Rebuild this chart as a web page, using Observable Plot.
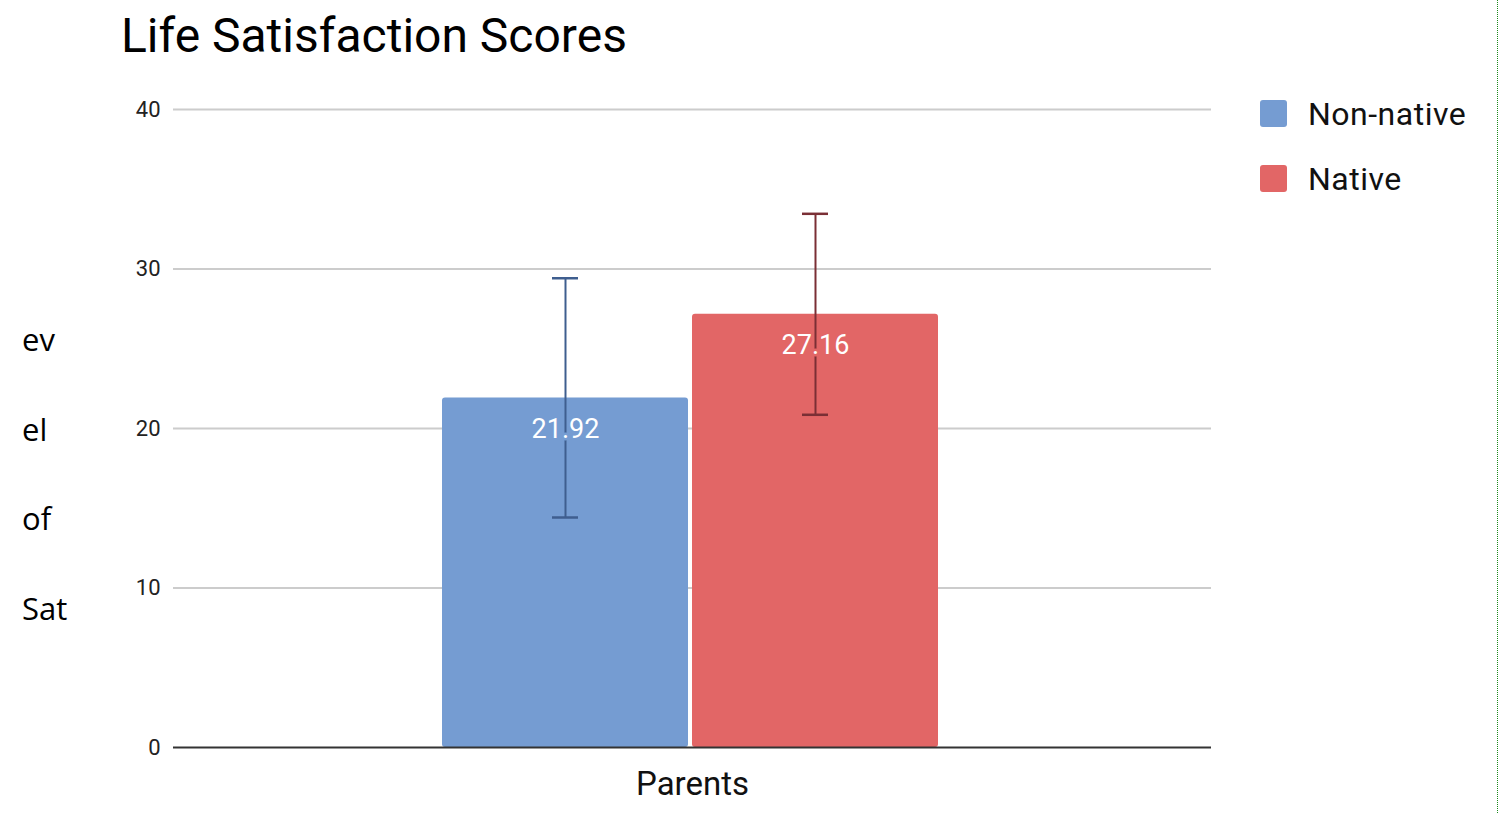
<!DOCTYPE html>
<html>
<head>
<meta charset="utf-8">
<script src="https://cdn.jsdelivr.net/npm/d3@7"></script>
<script src="https://cdn.jsdelivr.net/npm/@observablehq/plot@0.6"></script>
<style>
  html, body { margin: 0; padding: 0; background: #fff; }
  #wrap { position: relative; width: 1500px; height: 813px; overflow: hidden; font-family: Roboto, sans-serif; }
  #chart { position: absolute; left: 0; top: 0; }
  #title { position: absolute; left: 121px; top: 12px; font-size: 48px; line-height: 1; color: #000; white-space: nowrap; }
  #legend { position: absolute; left: 1260px; top: 96px; }
  .lg { display: flex; align-items: center; height: 35px; margin-bottom: 30px; font-size: 32px; letter-spacing: 0.5px; color: #111; white-space: nowrap; }
  .sw { width: 27px; height: 27px; border-radius: 3px; margin-right: 21px; flex: none; }
  .frag { position: absolute; left: 22px; font-family: "Open Sans", sans-serif; font-size: 31px; line-height: 1; color: #000; }
  #dots { position: absolute; left: 1497px; top: 0; height: 813px; border-left: 1px dotted #1a8a1a; }
</style>
</head>
<body>
<div id="wrap">
  <div id="chart"></div>
  <div id="title"></div>
  <div id="legend"></div>
  <div id="dots"></div>
</div>
<script>
// ---- data ----
const title = "Life Satisfaction Scores";
const categories = ["Parents"];
const series = ["Non-native", "Native"];
const means = [21.92, 27.16];
const errors = [7.5, 6.3];
const yTicks = [0, 10, 20, 30, 40];
const yTitleFragments = ["ev", "el", "of", "Sat"];
const barColors = ["#759cd2", "#e26666"];
const errColors = ["#3f5e8f", "#7a2f35"];

// ---- table ----
const rows = series.map((s, i) => ({
  category: categories[0],
  series: s,
  value: means[i],
  lo: means[i] - errors[i],
  hi: means[i] + errors[i],
  label: means[i].toFixed(2)
}));

const W = 1500, H = 813;

const chart = Plot.plot({
  width: W,
  height: H,
  marginLeft: 173,
  marginRight: 289,
  marginTop: 109,
  marginBottom: 66,
  style: { fontFamily: "Roboto, sans-serif", background: "transparent" },
  x: { domain: series, paddingInner: 0.016, paddingOuter: 1.076, align: 0.496, axis: null },
  y: { domain: [0, 40], ticks: yTicks },
  color: { domain: series, range: barColors },
  marks: [
    Plot.ruleY(yTicks.filter(t => t !== 0), { stroke: "#cccccc", strokeWidth: 2 }),
    Plot.axisY({ ticks: yTicks, tickSize: 0, tickPadding: 13, fontSize: 22, label: null, fill: "#222" }),
    Plot.barY(rows, { x: "series", y: "value", fill: "series", rx: 3 }),
    Plot.ruleX(rows, { x: "series", y1: "lo", y2: "hi", stroke: (d) => errColors[series.indexOf(d.series)], strokeWidth: 2 }),
    Plot.tickY(rows, { x: "series", y: "lo", stroke: (d) => errColors[series.indexOf(d.series)], strokeWidth: 2.5, insetLeft: 110, insetRight: 110 }),
    Plot.tickY(rows, { x: "series", y: "hi", stroke: (d) => errColors[series.indexOf(d.series)], strokeWidth: 2.5, insetLeft: 110, insetRight: 110 }),
    Plot.text(rows, { x: "series", y: "value", text: "label", fill: "white", fontSize: 27, lineAnchor: "top", dy: 21,
      stroke: (d) => barColors[series.indexOf(d.series)], strokeWidth: 5 }),
    Plot.ruleY([0], { stroke: "#333333", strokeWidth: 2 }),
    Plot.text(categories, { frameAnchor: "bottom", dy: 47, fontSize: 33, fill: "#111" })
  ]
});
document.getElementById("chart").appendChild(chart);

// title
document.getElementById("title").textContent = title;

// legend
const lg = document.getElementById("legend");
series.forEach((s, i) => {
  const row = document.createElement("div");
  row.className = "lg";
  const sw = document.createElement("div");
  sw.className = "sw";
  sw.style.background = barColors[i];
  const tx = document.createElement("span");
  tx.textContent = s;
  row.appendChild(sw);
  row.appendChild(tx);
  lg.appendChild(row);
});

// truncated y-axis title fragments
const wrap = document.getElementById("wrap");
yTitleFragments.forEach((f, i) => {
  const d = document.createElement("div");
  d.className = "frag";
  d.style.top = (324 + i * 89.5) + "px";
  d.textContent = f;
  wrap.appendChild(d);
});
</script>
</body>
</html>
